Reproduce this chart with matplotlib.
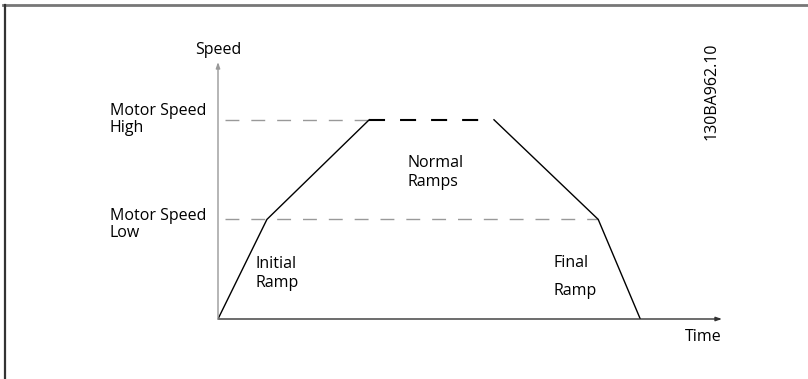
import matplotlib
matplotlib.use('Agg')
import matplotlib.pyplot as plt
from matplotlib.lines import Line2D

# ramp profile: time (arbitrary units) and speed (low = 1, high = 2)
ramp_time = [0, 1.0, 3.09, 5.64, 7.77, 8.63]
ramp_speed = [0, 1, 2, 2, 1, 0]
speed_low = 1
speed_high = 2
level_labels = ["Motor Speed\nHigh", "Motor Speed\nLow"]
level_values = [speed_high, speed_low]
level_label_shift = [0.0, -0.05]

plt.rcParams['font.family'] = ['Open Sans', 'DejaVu Sans']
W, H = 808, 379
fig = plt.figure(figsize=(W / 100, H / 100), dpi=100)

# axes: origin at pixel (218, 319), x axis to 722, y axis to 62
ax = fig.add_axes([218 / W, (H - 319) / H, (722 - 218) / W, (319 - 62) / H])
ax.set_xlim(0, 10.3)
ax.set_ylim(0, 2.58)
for s in ax.spines.values():
    s.set_visible(False)
ax.set_xticks([])
ax.set_yticks([])
ax.patch.set_alpha(0)

# axes with arrows
ax.annotate('', xy=(10.3, 0), xytext=(0, 0),
            arrowprops=dict(arrowstyle='-|>,head_length=0.35,head_width=0.12', color='#333333', lw=1.0,
                            shrinkA=0, shrinkB=0), annotation_clip=False)
ax.annotate('', xy=(0, 2.58), xytext=(0, 0),
            arrowprops=dict(arrowstyle='-|>,head_length=0.35,head_width=0.12', color='#999999', lw=1.0,
                            shrinkA=0, shrinkB=0), annotation_clip=False)

# reference levels (dashes in points, scaled by line width)
ax.plot([0.15, ramp_time[2]], [speed_high, speed_high], color='#999999', lw=1.0, dashes=(10, 8.6))
ax.plot([0.15, ramp_time[4]], [speed_low, speed_low], color='#999999', lw=1.0, dashes=(10, 8.6))
ax.plot([ramp_time[2], ramp_time[3] - 0.25], [speed_high, speed_high], color='black', lw=1.5,
        dashes=(7.7, 7.2))

# ramp profile (normal plateau drawn dashed above)
ax.plot(ramp_time[:3], ramp_speed[:3], color='black', lw=1.0)
ax.plot(ramp_time[3:], ramp_speed[3:], color='black', lw=1.0)

fs = 11.5
ax.text(0, 2.70, "Speed", ha='center', va='center', fontsize=fs)
for lab, v, dv in zip(level_labels, level_values, level_label_shift):
    ax.text(-2.21, v + dv, lab, ha='left', va='center', fontsize=fs, linespacing=1.05)
ax.text(0.77, 0.46, "Initial\nRamp", ha='left', va='center', fontsize=fs, linespacing=1.25)
ax.text(3.87, 1.47, "Normal\nRamps", ha='left', va='center', fontsize=fs, linespacing=1.25)
ax.text(6.85, 0.42, "Final\n\nRamp", ha='left', va='center', fontsize=fs, linespacing=0.86)
ax.text(10.3, -0.18, "Time", ha='right', va='center', fontsize=fs)
fig.text(712 / W, 1 - 91 / H, "130BA962.10", rotation=90, ha='center', va='center', fontsize=fs)

# frame lines
fig.add_artist(Line2D([3 / W, 1], [1 - 5 / H, 1 - 5 / H], color='#777777', lw=2))
fig.add_artist(Line2D([5 / W, 5 / W], [0, 1 - 5 / H], color='#333333', lw=1.6))

fig.savefig('out.png', dpi=100)
